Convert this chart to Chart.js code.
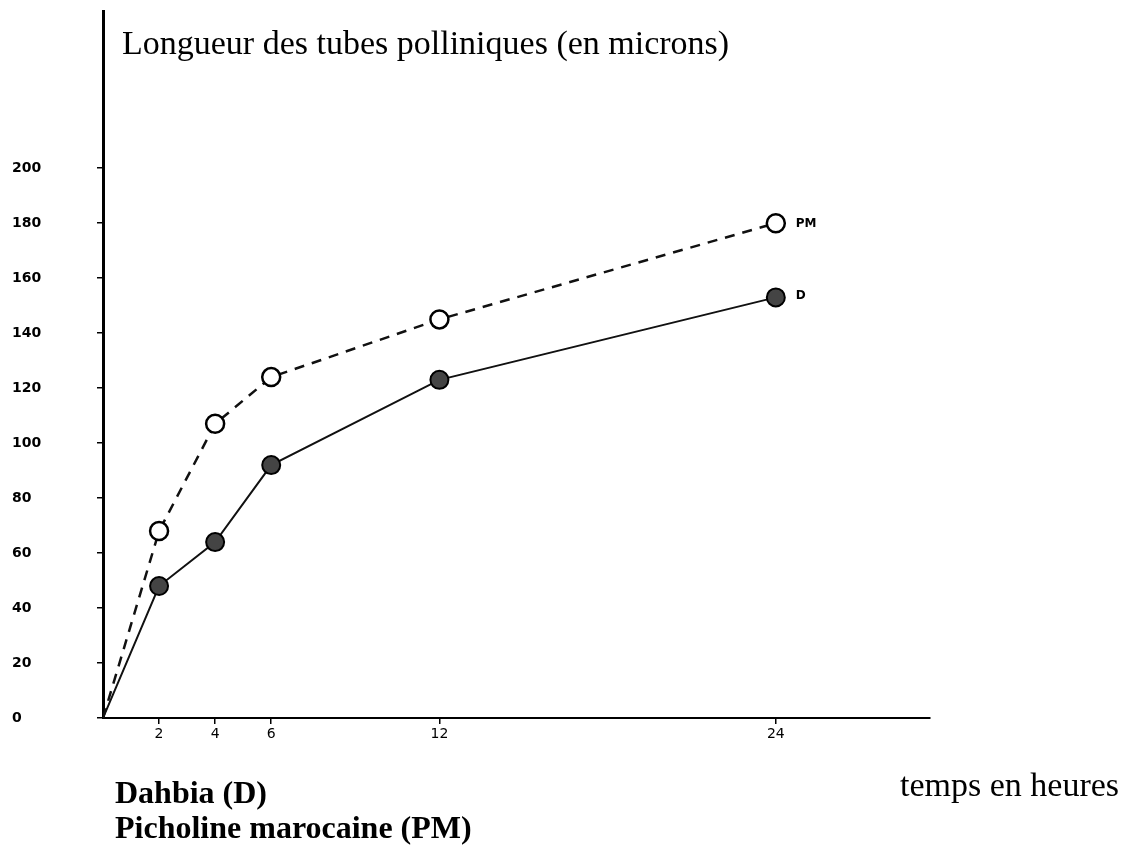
<!DOCTYPE html>
<html>
<head>
<meta charset="utf-8">
<script src="https://cdn.jsdelivr.net/npm/chart.js@4"></script>
<style>
  html, body { margin: 0; padding: 0; background: #fff; }
  #wrap { width: 1129px; height: 848px; }
</style>
</head>
<body>
<div id="wrap"><canvas id="chart" width="1129" height="848"></canvas></div>
<script>
// temps en heures
const hours = [0, 2, 4, 6, 12, 24];
const xTicks = [2, 4, 6, 12, 24];
const yTicks = [0, 20, 40, 60, 80, 100, 120, 140, 160, 180, 200];
// longueur des tubes (microns)
const dahbia = [0, 48, 64, 92, 123, 153];
const picholine = [0, 68, 107, 124, 145, 180];

const toPoints = vals => vals.map((v, i) => ({ x: hours[i], y: v }));
const radii = hours.map(h => (h === 0 ? 0 : 9));

// textes libres autour du graphique
const textPlugin = {
  id: 'texts',
  afterDraw(chart) {
    const ctx = chart.ctx;
    ctx.save();
    ctx.fillStyle = '#000';
    ctx.textBaseline = 'alphabetic';
    ctx.font = '34px "Liberation Serif"';
    ctx.fillText('Longueur des tubes polliniques (en microns)', 122, 54);
    ctx.fillText('temps en heures', 900, 796);
    ctx.font = 'bold 32px "Liberation Serif"';
    ctx.fillText('Dahbia (D)', 115, 803);
    ctx.fillText('Picholine marocaine (PM)', 115, 838);
    // étiquettes des courbes
    const xs = chart.scales.x, ys = chart.scales.y;
    ctx.font = 'bold 12px "DejaVu Sans"';
    ctx.fillText('PM', xs.getPixelForValue(24) + 20, ys.getPixelForValue(180) + 4);
    ctx.fillText('D', xs.getPixelForValue(24) + 20, ys.getPixelForValue(153) + 2);
    ctx.restore();
  }
};

new Chart(document.getElementById('chart'), {
  type: 'line',
  data: {
    datasets: [{
      label: 'Picholine marocaine (PM)',
      data: toPoints(picholine),
      borderColor: '#111',
      borderWidth: 2.5,
      borderDash: [10, 8],
      pointRadius: radii,
      pointBackgroundColor: '#fff',
      pointBorderColor: '#000',
      pointBorderWidth: 2.5,
      tension: 0
    }, {
      label: 'Dahbia (D)',
      data: toPoints(dahbia),
      borderColor: '#111',
      borderWidth: 2,
      pointRadius: radii,
      pointBackgroundColor: '#444',
      pointBorderColor: '#000',
      pointBorderWidth: 2,
      tension: 0
    }]
  },
  options: {
    responsive: false,
    animation: false,
    layout: { padding: { left: 12, top: 10, right: 199, bottom: 0 } },
    plugins: { legend: { display: false }, tooltip: { enabled: false } },
    scales: {
      x: {
        type: 'linear',
        min: 0,
        max: 29.5,
        afterBuildTicks: s => { s.ticks = xTicks.map(v => ({ value: v })); },
        afterFit: s => { s.height = 130; },
        border: { color: '#000', width: 2 },
        grid: { drawOnChartArea: false, drawTicks: true, tickLength: 6, color: '#000', lineWidth: 1.5 },
        ticks: { color: '#000', font: { family: 'DejaVu Sans', size: 14 }, padding: 2 }
      },
      y: {
        min: 0,
        max: 257,
        afterBuildTicks: s => { s.ticks = yTicks.map(v => ({ value: v })); },
        afterFit: s => { s.width = 91; },
        border: { color: '#000', width: 3 },
        grid: { drawOnChartArea: false, drawTicks: true, tickLength: 6, color: '#000', lineWidth: 1.5 },
        ticks: { color: '#000', crossAlign: 'far', font: { family: 'DejaVu Sans', size: 14, weight: 'bold' } }
      }
    }
  },
  plugins: [textPlugin]
});
</script>
</body>
</html>
